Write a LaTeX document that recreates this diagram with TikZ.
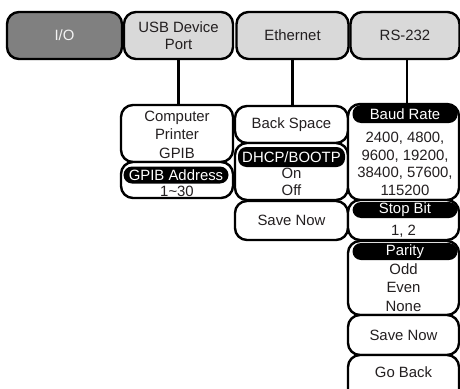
\documentclass[tikz,border=0pt]{standalone}
\usepackage{fontspec}
\setmainfont{Liberation Sans}
\definecolor{dgray}{HTML}{808080}
\definecolor{lgray}{HTML}{D9D9D9}
\definecolor{ink}{HTML}{231F20}
\begin{document}
\begin{tikzpicture}[x=1pt,y=-1pt,
  every node/.style={font=\fontsize{14.9pt}{17.5pt}\selectfont, text=ink, inner sep=0pt, align=center},
  tab/.style={draw=black, line width=2.4pt, rounded corners=12pt, fill=lgray, minimum height=47pt},
  box/.style={draw=black, line width=2.4pt, rounded corners=12pt, fill=white},
  lab/.style={fill=black, rounded corners=8.5pt, text=white, minimum width=105pt},
  conn/.style={draw=black, line width=2.4pt}
]
\useasboundingbox (0,0) rectangle (460,388);
\clip (0,0) rectangle (460,388);
% top tabs
\node[tab, fill=dgray, text=white!95!black, minimum width=115pt] (io) at (64.5,35.5) {I/O};
\node[tab, minimum width=109pt] (usb) at (178.5,35.5) {USB Device\\Port};
\node[tab, minimum width=112pt] (eth) at (292.5,35.5) {Ethernet};
\node[tab, minimum width=109pt] (rs) at (405,35.5) {RS-232};
% USB column
\node[box, minimum width=112pt, minimum height=57pt] (comp) at (177,133.5) {};
\node at (177,134.5) {Computer\\[1pt]Printer\\[1pt]GPIB};
\node[box, minimum width=112pt, minimum height=36pt] (gpib) at (177,180) {};
\node[lab, minimum width=105pt, minimum height=17pt] (gpibl) at (176,175) {GPIB Address};
\node at (177,191) {1\textasciitilde 30};
% Ethernet column
\node[box, minimum width=113pt, minimum height=37pt] (back) at (291.5,124.5) {Back Space};
\node[box, minimum width=113pt, minimum height=57pt] (dhcp) at (291.5,171.5) {};
\node[lab, minimum width=107pt, minimum height=20pt] (dhcpl) at (291.5,157) {DHCP/BOOTP};
\node at (291.5,182) {On\\Off};
\node[box, minimum width=113pt, minimum height=39pt] (save1) at (291.5,220.5) {Save Now};
% RS-232 column
\node[box, minimum width=111pt, minimum height=96pt] (baud) at (403.5,152) {};
\node[lab, minimum width=105pt, minimum height=18pt] (baudl) at (405,114) {Baud Rate};
\node at (405,164) {2400, 4800,\\9600, 19200,\\38400, 57600,\\115200};
\node[box, minimum width=111pt, minimum height=40pt] (stop) at (403.5,220) {};
\node[lab, minimum width=105pt, minimum height=16pt] (stopl) at (405,210) {Stop Bit};
\node at (403.5,231.5) {1, 2};
\node[box, minimum width=111pt, minimum height=74pt] (par) at (403.5,278) {};
\node[lab, minimum width=105pt, minimum height=17pt] (parl) at (405,251.5) {Parity};
\node at (403.5,287.5) {Odd\\[1pt]Even\\[1pt]None};
\node[box, minimum width=111pt, minimum height=40pt] (save2) at (403.5,335) {Save Now};
\node[box, minimum width=111pt, minimum height=48pt] (goback) at (403.5,379) {};
\node at (403.5,372) {Go Back};
% connectors
\draw[conn] (usb.south -| comp.north) ++(1.5,0) coordinate (u1) -- (u1 |- comp.north);
\draw[conn] (eth.south) -- (back.north -| eth.south);
\draw[conn] (rs.south) ++(2,0) coordinate (r1) -- (r1 |- baud.north);
\end{tikzpicture}
\end{document}
